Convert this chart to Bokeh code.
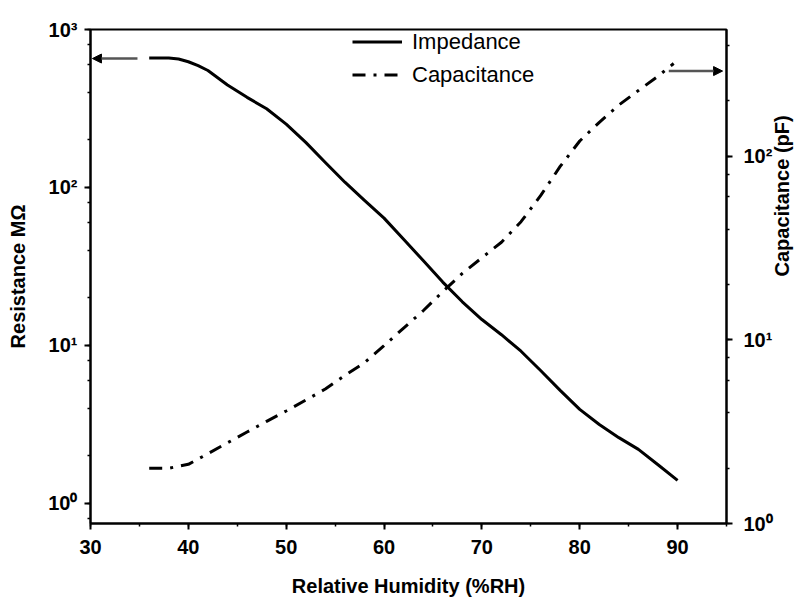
import math
from bokeh.plotting import figure
from bokeh.models import (Range1d, LogAxis, LogScale, Arrow, NormalHead,
                          CustomJSTickFormatter, SingleIntervalTicker, LogTicker,
                          Legend, LegendItem)
from bokeh.embed import file_html
from bokeh.resources import INLINE

# ---- data ----
rh_imp = [36, 38, 39, 40, 41, 42, 44, 46, 48, 50, 52, 54, 56, 58, 60, 62, 64,
          66, 68, 70, 72, 74, 76, 78, 80, 82, 84, 86, 88, 90]
impedance = [660, 660, 650, 625, 590, 550, 445, 372, 315, 252, 193, 144, 108,
             83, 64, 47, 34.5, 25.2, 18.9, 14.6, 11.7, 9.2, 6.95, 5.2, 3.94,
             3.16, 2.61, 2.2, 1.76, 1.40]

rh_cap = [36, 38, 40, 42, 44, 46, 48, 50, 52, 54, 56, 58, 60, 62, 64, 66, 68,
          70, 72, 74, 76, 78, 80, 82, 84, 86, 88, 89.6]
capacitance = [2.0, 2.0, 2.1, 2.4, 2.75, 3.15, 3.6, 4.1, 4.7, 5.4, 6.4, 7.5,
               9.3, 11.6, 14.4, 18.3, 23, 28, 34, 44, 61, 88, 121, 153, 190,
               228, 273, 320]

x_range = [30, 95]
left_range = [0.747, 1000]
right_range = [1, 490]

left_arrow_x = [34.8, 30.2]
left_arrow_y = [655, 655]
right_arrow_x = [89.1, 94.6]
right_arrow_y = [291, 291]

FONT = "Liberation Sans"

p = figure(width=810, height=601, output_backend="svg", toolbar_location=None,
           x_range=Range1d(*x_range), y_range=Range1d(*left_range),
           y_axis_type="log",
           min_border_left=90, min_border_right=84, min_border_top=29,
           min_border_bottom=78)
p.extra_y_ranges = {"cap": Range1d(*right_range)}
p.extra_y_scales = {"cap": LogScale()}

p.xgrid.visible = False
p.ygrid.visible = False
p.outline_line_color = "black"
p.outline_line_width = 2
p.background_fill_color = "white"
p.border_fill_color = "white"

sup_fmt = CustomJSTickFormatter(code="""
const e = Math.round(Math.log10(tick));
const sup = {"-1": "\u207b\u00b9", "0": "\u2070", "1": "\u00b9", "2": "\u00b2", "3": "\u00b3"};
return "10" + sup[String(e)];
""")

r1 = p.line(rh_imp, impedance, line_color="black", line_width=3,
            line_join="round")
r2 = p.line(rh_cap, capacitance, line_color="black", line_width=3,
            line_dash="13 8 3 8", y_range_name="cap")

rax = LogAxis(y_range_name="cap", axis_label="Capacitance (pF)")
p.add_layout(rax, "right")

def style(ax):
    ax.axis_line_width = 2
    ax.axis_line_color = "black"
    ax.major_tick_line_width = 2
    ax.minor_tick_line_width = 1.5
    ax.major_tick_out = 6
    ax.major_tick_in = 0
    ax.minor_tick_out = 3
    ax.minor_tick_in = 0
    ax.major_label_text_font = FONT
    ax.major_label_text_font_style = "bold"
    ax.major_label_text_font_size = "20px"
    ax.major_label_text_color = "black"
    ax.axis_label_text_font = FONT
    ax.axis_label_text_font_style = "bold"
    ax.axis_label_text_font_size = "20px"
    ax.axis_label_text_color = "black"

xa = p.xaxis[0]
style(xa)
xa.ticker = SingleIntervalTicker(interval=10, num_minor_ticks=2)
xa.axis_label = "Relative Humidity (%RH)"
xa.major_label_standoff = 10
xa.axis_label_standoff = 18

ya = p.yaxis[0]
style(ya)
ya.ticker = LogTicker()
ya.formatter = sup_fmt
ya.axis_label = "Resistance M\u03a9"
ya.major_label_standoff = 7
ya.axis_label_standoff = 16

style(rax)
rax.ticker = LogTicker()
rax.formatter = sup_fmt
rax.major_label_standoff = 11
rax.axis_label_standoff = 6
rax.axis_label_orientation = math.pi / 2
rax.axis_label_text_align = "center"
rax.axis_label_text_baseline = "middle"

p.add_layout(Arrow(x_start=left_arrow_x[0], y_start=left_arrow_y[0],
                   x_end=left_arrow_x[1], y_end=left_arrow_y[1],
                   line_color="#555555", line_width=2.5,
                   end=NormalHead(size=9, fill_color="black", line_color="black")))
p.add_layout(Arrow(x_start=right_arrow_x[0], y_start=right_arrow_y[0],
                   x_end=right_arrow_x[1], y_end=right_arrow_y[1],
                   y_range_name="cap",
                   line_color="#555555", line_width=2.5,
                   end=NormalHead(size=9, fill_color="black", line_color="black")))

legend = Legend(items=[LegendItem(label="Impedance", renderers=[r1]),
                       LegendItem(label="Capacitance", renderers=[r2])],
                location=(262, 432), padding=0, margin=0, spacing=0,
                glyph_width=50, glyph_height=33, label_height=33,
                label_standoff=10, label_text_font=FONT,
                label_text_font_size="22px", label_text_color="black",
                border_line_color=None, background_fill_alpha=0)
p.add_layout(legend)

open("out.html", "w", encoding="utf-8").write(file_html(p, INLINE))
